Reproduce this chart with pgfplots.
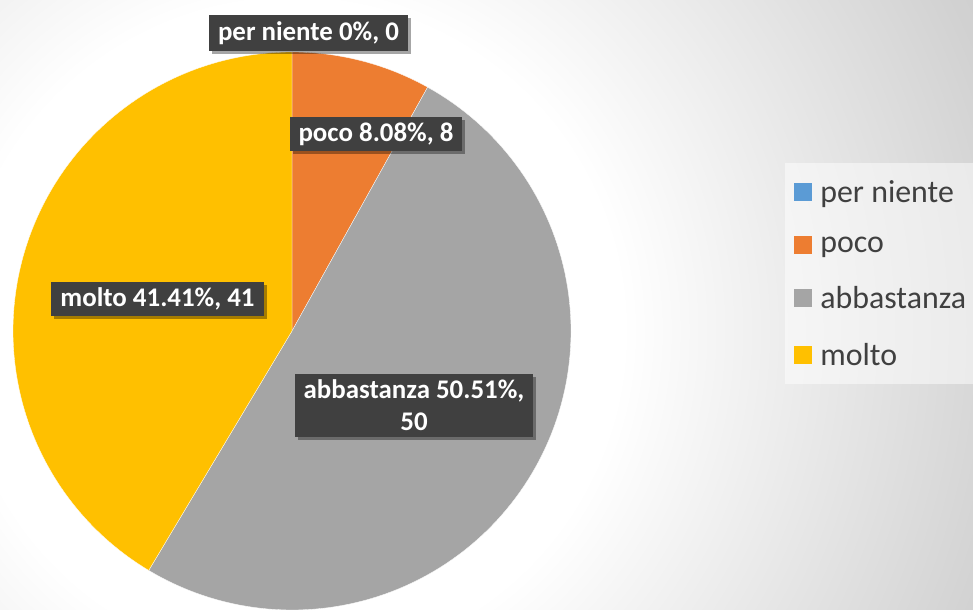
\documentclass[border=0pt]{standalone}
\usepackage{pgfplots}
\pgfplotsset{compat=1.18}
\usepackage{fontspec}
\setmainfont{Carlito}
\usetikzlibrary{shadows}
\definecolor{cBlue}{HTML}{5B9BD5}
\definecolor{cOrange}{HTML}{ED7D31}
\definecolor{cGray}{HTML}{A5A5A5}
\definecolor{cYellow}{HTML}{FFC000}
\definecolor{lblbg}{HTML}{404040}
\definecolor{legtext}{HTML}{404040}
\pgfdeclareradialshading{bgshade}{\pgfpoint{0bp}{0bp}}{%
  color(0bp)=(white); color(8.25bp)=(white); color(18.5bp)=(black!18);
  color(25bp)=(black!24); color(50bp)=(black!24)}
% counts
\def\vPerNiente{0}
\def\vPoco{8}
\def\vAbb{50}
\def\vMolto{41}
\pgfmathsetmacro\tot{\vPerNiente+\vPoco+\vAbb+\vMolto}
\pgfmathsetmacro\aA{0}
\pgfmathsetmacro\aB{\aA+\vPerNiente/\tot*360}
\pgfmathsetmacro\aC{\aB+\vPoco/\tot*360}
\pgfmathsetmacro\aD{\aC+\vAbb/\tot*360}
\pgfmathsetmacro\aE{\aD+\vMolto/\tot*360}
\def\cx{292}\def\cy{279}\def\rr{279}
\tikzset{lbl/.style={fill=lblbg, text=white, font=\bfseries\fontsize{27}{32}\selectfont, inner xsep=9bp, inner ysep=6bp, align=center,
  drop shadow={shadow xshift=3bp, shadow yshift=-3bp, opacity=0.35, fill=black}}}
\begin{document}
\begin{tikzpicture}
\begin{axis}[
  width=973bp, height=610bp, scale only axis,
  xmin=0, xmax=973, ymin=0, ymax=610,
  axis lines=none, ticks=none, clip=false,
  legend style={at={(axis cs:785,447)}, anchor=north west, draw=none,
    fill=white, fill opacity=0.5, text opacity=1,
    font=\fontsize{32}{38}\selectfont, text=legtext,
    row sep=29bp, inner xsep=9bp, inner ysep=15bp,
    cells={anchor=west}},
  legend image code/.code={\path[#1, draw=none, fill opacity=1] (0bp,-9bp) rectangle (18bp,9bp); \path (24bp,0bp);},
]
\begin{scope}
\clip (axis cs:0,0) rectangle (axis cs:973,610);
\shade[shading=bgshade] (axis cs:\cx,\cy) circle (1000bp);
\end{scope}
\addplot[fill=cBlue, draw=none] coordinates {(\cx,\cy) (\cx,558)};
\addlegendentry{per niente}
\addplot[fill=cOrange, draw=white, line width=0.3bp, domain=\aB:\aC, samples=40, variable=\t]
  ({\cx+\rr*sin(\t)},{\cy+\rr*cos(\t)}) -- (axis cs:\cx,\cy) -- cycle;
\addlegendentry{poco}
\addplot[fill=cGray, draw=white, line width=0.3bp, domain=\aC:\aD, samples=120, variable=\t]
  ({\cx+\rr*sin(\t)},{\cy+\rr*cos(\t)}) -- (axis cs:\cx,\cy) -- cycle;
\addlegendentry{abbastanza}
\addplot[fill=cYellow, draw=white, line width=0.3bp, domain=\aD:\aE, samples=120, variable=\t]
  ({\cx+\rr*sin(\t)},{\cy+\rr*cos(\t)}) -- (axis cs:\cx,\cy) -- cycle;
\addlegendentry{molto}
\node[lbl] at (axis cs:308.5,577) {per niente 0\%, 0};
\node[lbl] at (axis cs:376,476) {poco 8.08\%, 8};
\node[lbl] at (axis cs:157.5,311) {molto 41.41\%, 41};
\node[lbl] at (axis cs:414,204.5) {abbastanza 50.51\%,\\50};
\end{axis}
\pgfresetboundingbox
\path (0,0) rectangle (973bp,610bp);
\end{tikzpicture}
\end{document}
